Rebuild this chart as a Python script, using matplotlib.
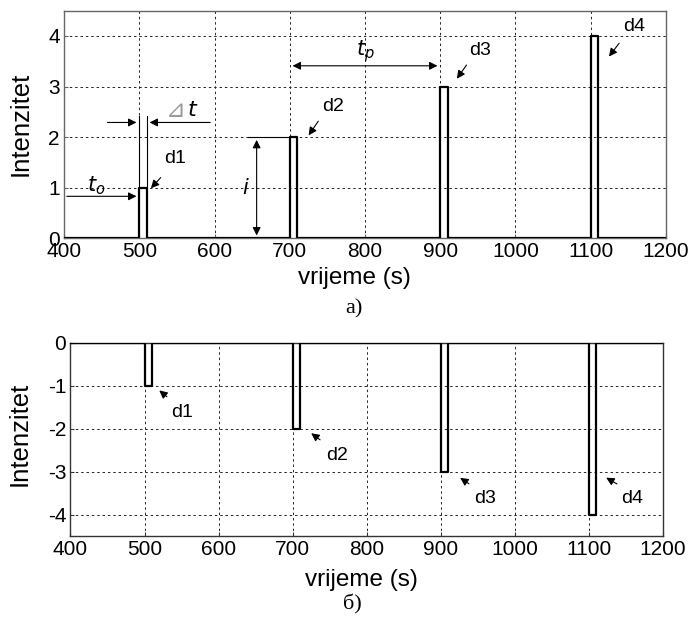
import matplotlib
matplotlib.use("Agg")
import matplotlib.pyplot as plt
import numpy as np

plt.rcParams['font.family'] = ['Liberation Sans', 'DejaVu Sans']
plt.rcParams['axes.unicode_minus'] = False

# Pulse disturbances: start times (s), duration (s), intensities
pulse_starts = [500, 700, 900, 1100]
pulse_width = 10
top_intensity = [1, 2, 3, 4]
bottom_intensity = [-1, -2, -3, -4]
pulse_labels = ["d1", "d2", "d3", "d4"]

x_ticks = [400, 500, 600, 700, 800, 900, 1000, 1100, 1200]
top_yticks = [0, 1, 2, 3, 4]
bottom_yticks = [0, -1, -2, -3, -4]

TICK_FS = 15
XLAB_FS = 17.5
YLAB_FS = 18.5
ANN_FS = 14


def step_signal(starts, width, amps):
    xs, ys = [400], [0]
    for s, a in zip(starts, amps):
        xs += [s, s, s + width, s + width]
        ys += [0, a, a, 0]
    xs.append(1200)
    ys.append(0)
    return np.array(xs), np.array(ys)


def style_axes(ax, ylim, yticks, spine_color):
    ax.set_xlim(400, 1200)
    ax.set_ylim(*ylim)
    ax.set_xticks(x_ticks)
    ax.set_yticks(yticks)
    ax.tick_params(labelsize=TICK_FS, direction='in', length=3,
                   color=spine_color, pad=3)
    ax.grid(True, color='#222222', linestyle=(0, (2.5, 3)), linewidth=0.7)
    for sp in ax.spines.values():
        sp.set_color(spine_color)
        sp.set_linewidth(1.0)
    ax.set_xlabel("vrijeme (s)", fontsize=XLAB_FS)
    ax.set_ylabel("Intenzitet", fontsize=YLAB_FS)


fig = plt.figure(figsize=(6.89, 6.17), dpi=100)
ax1 = fig.add_axes([0.0929, 0.6138, 0.8737, 0.3689])
ax2 = fig.add_axes([0.1023, 0.1313, 0.8600, 0.3133])

# ---- top: positive pulses
x, y = step_signal(pulse_starts, pulse_width, top_intensity)
ax1.plot(x, y, color='black', linewidth=1.6, zorder=3)
style_axes(ax1, (0, 4.5), top_yticks, '#666666')
ax1.xaxis.set_label_coords(0.483, -0.128)
ax1.yaxis.set_label_coords(-0.052, 0.504)

arrow = dict(arrowstyle='-|>', color='black', lw=0.8, mutation_scale=12)
darrow = dict(arrowstyle='<|-|>', color='black', lw=0.8, mutation_scale=12)

top_text = [(547, 1.57), (757, 2.6), (953, 3.72), (1158, 4.18)]
top_tail = [(531, 1.24), (740, 2.36), (937, 3.47), (1140, 3.9)]
top_tip = [(513, 0.95), (723, 1.99), (920, 3.11), (1122, 3.55)]
for lab, t, tl, tp in zip(pulse_labels, top_text, top_tail, top_tip):
    ax1.text(t[0], t[1], lab, fontsize=ANN_FS, ha='center', va='center')
    ax1.annotate("", xy=tp, xytext=tl, arrowprops=arrow)

# delta t markers
s0 = pulse_starts[0]
ax1.plot([s0, s0], [top_intensity[0], 2.42], color='black', lw=0.8)
ax1.plot([s0 + pulse_width] * 2, [top_intensity[0], 2.42], color='black', lw=0.8)
ax1.annotate("", xy=(s0, 2.29), xytext=(454, 2.29), arrowprops=arrow)
ax1.annotate("", xy=(s0 + pulse_width, 2.29), xytext=(598, 2.29), arrowprops=arrow)
ax1.text(563, 2.53, "$t$", fontsize=ANN_FS + 2, ha='left', va='center')
ax1.text(561, 2.54, "\u22bf", fontsize=17, ha='right', va='center',
         color='#999999', family=['DejaVu Sans'])

# t_o marker
ax1.annotate("", xy=(s0, 0.83), xytext=(400, 0.83), arrowprops=arrow)
ax1.text(443, 1.04, "$t_o$", fontsize=ANN_FS + 1, ha='center', va='center')

# intensity marker i
ax1.plot([644, pulse_starts[1]], [top_intensity[1]] * 2, color='black', lw=0.8)
ax1.annotate("", xy=(656, 0), xytext=(656, top_intensity[1]), arrowprops=darrow)
ax1.text(642, 1.0, "$i$", fontsize=ANN_FS + 1, ha='center', va='center')

# period t_p marker
ax1.annotate("", xy=(pulse_starts[1], 3.41), xytext=(pulse_starts[2], 3.41),
             arrowprops=darrow)
ax1.text(801, 3.7, "$t_p$", fontsize=ANN_FS + 1, ha='center', va='center')

fig.text(0.514, 0.499, "a)", fontsize=16, family='Liberation Serif',
         ha='center', va='center')

# ---- bottom: negative pulses
x, y = step_signal(pulse_starts, pulse_width, bottom_intensity)
ax2.plot(x, y, color='black', linewidth=1.6, zorder=3)
style_axes(ax2, (-4.5, 0), bottom_yticks, '#333333')
ax2.xaxis.set_label_coords(0.491, -0.172)
ax2.yaxis.set_label_coords(-0.065, 0.53)

bot_text = [(551, -1.62), (760, -2.62), (960, -3.62), (1158, -3.62)]
bot_tail = [(533, -1.30), (740, -2.30), (941, -3.32), (1141, -3.32)]
bot_tip = [(517, -1.07), (722, -2.07), (923, -3.11), (1120, -3.11)]
for lab, t, tl, tp in zip(pulse_labels, bot_text, bot_tail, bot_tip):
    ax2.text(t[0], t[1], lab, fontsize=ANN_FS, ha='center', va='center')
    ax2.annotate("", xy=tp, xytext=tl, arrowprops=arrow)

fig.text(0.512, 0.021, "б)", fontsize=16, family='Liberation Serif',
         ha='center', va='center')

fig.savefig("out.png", dpi=100)
